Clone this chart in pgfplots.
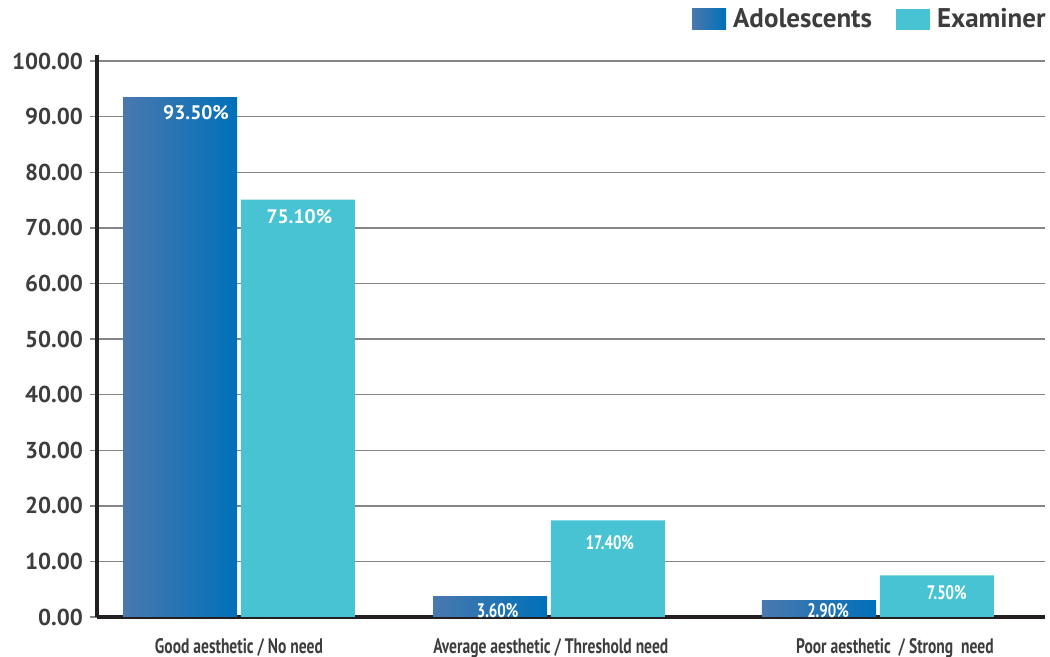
\documentclass[border=0pt]{standalone}
\usepackage{fontspec}
\setmainfont{PT Sans}
\usepackage{graphicx}
\usepackage{pgfplots}
\pgfplotsset{compat=1.18}
\definecolor{adoA}{HTML}{4A78AE}
\definecolor{adoB}{HTML}{0070B9}
\definecolor{exam}{HTML}{47C3D4}
\definecolor{txt}{HTML}{3D3D3D}
\definecolor{axisblk}{HTML}{231F20}
\definecolor{gridc}{HTML}{858585}

\pgfplotstableread{
x y dx dy sx
-0.19 93.5 8 -0.5 1
0.81 3.6 3.75 0.5 0.76
1.871 2.9 4.5 2 0.76
}\adol
\pgfplotstableread{
x y dx dy sx
0.19 75.1 0.75 -1.5 1
1.19 17.4 1 -4 0.76
2.251 7.5 5 -1.5 0.76
}\exam

\pgfplotsset{
  lbl/.style={
    visualization depends on={\thisrow{dx} \as \dx},
    visualization depends on={\thisrow{dy} \as \dy},
    visualization depends on={\thisrow{sx} \as \sx}},
  adobar/.style={ybar, bar width=0.368, bar shift=0pt, draw=none, left color=adoA, right color=adoB, lbl},
}

\begin{document}
\begin{tikzpicture}
\useasboundingbox (-48.5pt,-20pt) rectangle (476.5pt,308.5pt);
\begin{axis}[
  at={(0,0)}, anchor=south west,
  scale only axis, width=474pt, height=281pt,
  xmin=-0.458, xmax=2.6, ymin=0, ymax=101.1,
  axis x line*=bottom, axis y line*=left,
  axis line style={line width=2pt, draw=axisblk, -},
  ytick={0,10,...,100},
  ymajorgrids, grid style={draw=gridc, line width=0.7pt},
  ytick align=outside, major tick length=3.5pt,
  ytick style={draw=gridc, line width=0.7pt},
  xtick style={draw=none},
  xtick={0,1.006,2.116},
  xticklabels={Good aesthetic / No need, Average aesthetic / Threshold need, Poor aesthetic \ / Strong \ need},
  xticklabel style={font=\bfseries\fontsize{10.5}{12}\selectfont, text=txt, yshift=-7pt, xscale=0.74},
  yticklabel style={font=\bfseries\fontsize{11.5}{13}\selectfont, text=txt},
  /pgf/number format/assume math mode=true,
  yticklabel={\pgfmathprintnumber[fixed, fixed zerofill, precision=2]{\tick}},
  legend style={at={(1,1)}, anchor=south east, yshift=10pt, xshift=2.5pt, draw=none, fill=none, inner sep=0pt,
    font=\bfseries\fontsize{13.5}{15}\selectfont, text=txt,
    /tikz/every even column/.append style={column sep=10pt}},
  legend columns=2, legend cell align=left,
  legend image code/.code={\path[#1, draw=none] (0pt,-5.25pt) rectangle (17pt,5.25pt); \path (18.5pt,0pt);},
  nodes near coords={\scalebox{\sx}[1]{\pgfmathprintnumber[fixed, fixed zerofill, precision=2]{\pgfplotspointmeta}\%}},
  nodes near coords style={anchor=north, text=white, font=\bfseries\fontsize{9.8}{11}\selectfont, xshift=\dx pt, yshift=\dy pt},
  point meta=y,
]
\addplot[adobar, skip coords between index={1}{3}] table[x=x, y=y] {\adol};
\addlegendentry{Adolescents}
\addplot[ybar, bar width=0.368, bar shift=0pt, draw=none, fill=exam, lbl] table[x=x, y=y] {\exam};
\addlegendentry{Examiner}
\addplot[adobar, forget plot, skip coords between index={0}{1}, skip coords between index={2}{3}] table[x=x, y=y] {\adol};
\addplot[adobar, forget plot, skip coords between index={0}{2}] table[x=x, y=y] {\adol};
\end{axis}
\end{tikzpicture}
\end{document}
